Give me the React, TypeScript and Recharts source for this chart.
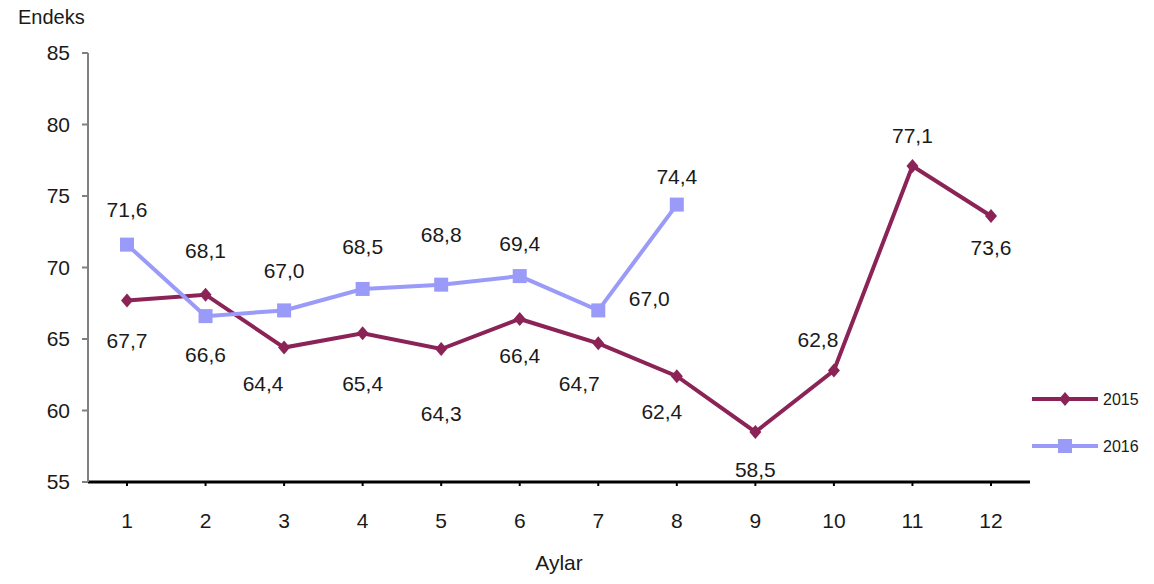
import { LineChart, Line, XAxis, YAxis, LabelList } from "recharts";

// Months on the x axis
const months = ["1", "2", "3", "4", "5", "6", "7", "8", "9", "10", "11", "12"];

// Index values per year
const values2015 = [67.7, 68.1, 64.4, 65.4, 64.3, 66.4, 64.7, 62.4, 58.5, 62.8, 77.1, 73.6];
const values2016 = [71.6, 66.6, 67.0, 68.5, 68.8, 69.4, 67.0, 74.4];

const yTicks = [55, 60, 65, 70, 75, 80, 85];

// Label offsets (dx, dy) from each point, to mimic the original placement
const offsets2015 = [
    [0, 40], [0, -44], [-21, 36], [0, 50], [0, 64], [0, 37],
    [-19, 40], [-15, 35], [0, 38], [-16, -31], [0, -30], [0, 31],
];
const offsets2016 = [
    [0, -35], [0, 38], [0, -40], [0, -42], [0, -50], [0, -33], [51, -12], [0, -28],
];

const colors = {
    y2015: "#8B2357",
    y2016: "#9A9AF8",
};

const data = months.map((m, i) => ({
    month: m,
    y2015: values2015[i] ?? null,
    y2016: values2016[i] ?? null,
}));

const font = "'Liberation Sans', Arial, sans-serif";
const fmt = (v: number) => v.toFixed(1).replace(".", ",");

const Diamond = (props: any) => {
    const { cx, cy } = props;
    if (cx == null || cy == null) return null;
    return <path d={`M${cx},${cy - 7} L${cx + 6},${cy} L${cx},${cy + 7} L${cx - 6},${cy} Z`} fill={colors.y2015} />;
};

const Square = (props: any) => {
    const { cx, cy } = props;
    if (cx == null || cy == null) return null;
    return <rect x={cx - 7} y={cy - 7} width={14} height={14} fill={colors.y2016} />;
};

const makeLabel = (offsets: number[][]) => (props: any) => {
    const { x, y, value, index } = props;
    if (value == null) return null;
    const [dx, dy] = offsets[index] || [0, -30];
    return (
        <text x={x + dx} y={y + dy} textAnchor="middle" dominantBaseline="central"
            fontFamily={font} fontSize={21} fill="#1a1a1a">
            {fmt(Number(value))}
        </text>
    );
};

export default function App() {
    return (
        <div style={{ position: "absolute", left: 0, top: 0, width: 1154, height: 584, background: "#fff", fontFamily: font }}>
            <div style={{ position: "absolute", left: 18, top: 6, fontSize: 20, color: "#1a1a1a" }}>Endeks</div>

            <LineChart width={1154} height={584} data={data} margin={{ top: 53, right: 124, bottom: 2, left: 0 }}>
                <XAxis
                    dataKey="month"
                    padding={{ left: 39, right: 39 }}
                    axisLine={{ stroke: "#000", strokeWidth: 3 }}
                    tickLine={{ stroke: "#000", strokeWidth: 2 }}
                    tickSize={4}
                    tickMargin={27}
                    height={100}
                    tick={{ fontSize: 21, fill: "#1a1a1a", fontFamily: font }}
                    label={{ value: "Aylar", position: "insideBottom", offset: 12, fontSize: 21, fill: "#1a1a1a", fontFamily: font }}
                />
                <YAxis
                    domain={[55, 85]}
                    ticks={yTicks}
                    width={88}
                    axisLine={{ stroke: "#808080", strokeWidth: 2 }}
                    tickLine={{ stroke: "#808080", strokeWidth: 2 }}
                    tickSize={6}
                    tickMargin={12}
                    tick={{ fontSize: 21, fill: "#1a1a1a", fontFamily: font }}
                />
                <Line dataKey="y2015" stroke={colors.y2015} strokeWidth={4} dot={<Diamond />} activeDot={false} isAnimationActive={false}>
                    <LabelList dataKey="y2015" content={makeLabel(offsets2015)} />
                </Line>
                <Line dataKey="y2016" stroke={colors.y2016} strokeWidth={4} dot={<Square />} activeDot={false} isAnimationActive={false} connectNulls={false}>
                    <LabelList dataKey="y2016" content={makeLabel(offsets2016)} />
                </Line>
            </LineChart>

            {/* Legend */}
            <svg style={{ position: "absolute", left: 1028, top: 380 }} width={126} height={90}>
                <line x1={4} y1={19} x2={70} y2={19} stroke={colors.y2015} strokeWidth={4} />
                <path d="M37,12 L43,19 L37,26 L31,19 Z" fill={colors.y2015} />
                <text x={75} y={19} dominantBaseline="central" fontFamily={font} fontSize={16} fill="#1a1a1a">2015</text>
                <line x1={4} y1={66} x2={70} y2={66} stroke={colors.y2016} strokeWidth={4} />
                <rect x={30} y={59} width={14} height={14} fill={colors.y2016} />
                <text x={75} y={66} dominantBaseline="central" fontFamily={font} fontSize={16} fill="#1a1a1a">2016</text>
            </svg>
        </div>
    );
}
